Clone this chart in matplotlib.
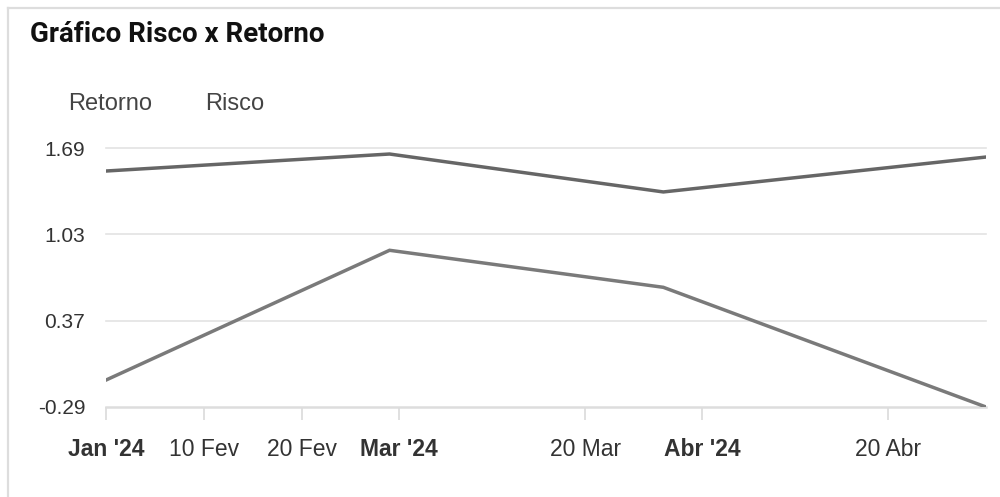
import matplotlib
matplotlib.use("Agg")
import matplotlib.pyplot as plt
from matplotlib.lines import Line2D
import datetime as dt

# ---- data ----
dates = ["2024-01-31", "2024-02-29", "2024-03-28", "2024-04-30"]
risco = [1.514, 1.644, 1.354, 1.621]
retorno = [-0.084, 0.908, 0.625, -0.29]
y_ticks = [-0.29, 0.37, 1.03, 1.69]
x_tick_dates = ["2024-01-31", "2024-02-10", "2024-02-20", "2024-03-01",
                "2024-03-20", "2024-04-01", "2024-04-20"]
x_tick_labels = ["Jan '24", "10 Fev", "20 Fev", "Mar '24", "20 Mar", "Abr '24", "20 Abr"]
bold_labels = {"Jan '24", "Mar '24", "Abr '24"}
title = "Gráfico Risco x Retorno"

to_d = lambda s: dt.datetime.strptime(s, "%Y-%m-%d")
xd = [to_d(s) for s in dates]
xt = [to_d(s) for s in x_tick_dates]

fig = plt.figure(figsize=(10, 4.97), dpi=100)
fig.patch.set_facecolor("white")
W, H = 1000, 497
ax = fig.add_axes([106 / W, 1 - 407 / H, (986 - 106) / W, (407 - 148) / H])

ax.plot(xd, risco, color="#666666", lw=2.5, solid_joinstyle="miter", zorder=3)
ax.plot(xd, retorno, color="#7a7a7a", lw=2.5, solid_joinstyle="miter", zorder=3)

ax.set_xlim(xd[0], xd[-1])
ax.set_ylim(y_ticks[0], y_ticks[-1])

for s in ["top", "right", "left"]:
    ax.spines[s].set_visible(False)
ax.spines["bottom"].set_color("#dddddd")
ax.spines["bottom"].set_linewidth(1.8)

ax.set_yticks(y_ticks)
ax.set_yticklabels([f"{v:.2f}" for v in y_ticks], family="Liberation Sans",
                   fontsize=15, color="#333333")
ax.tick_params(axis="y", length=0, pad=15)
for v in y_ticks[1:]:
    ax.axhline(v, color="#e3e3e3", lw=1.2, zorder=1, clip_on=False)

ax.set_xticks(xt)
ax.set_xticklabels(x_tick_labels, family="Liberation Sans", fontsize=16.5, color="#333333")
for lbl in ax.get_xticklabels():
    if lbl.get_text() in bold_labels:
        lbl.set_fontweight("bold")
ax.tick_params(axis="x", length=9.5, width=1.3, color="#dddddd", pad=13)

# title & legend
fig.text(30 / W, 1 - 34 / H, title, family="Roboto", fontweight="bold",
         fontsize=20, color="#111111", va="center", ha="left")
fig.text(68 / W, 1 - 104 / H, "Retorno", family="Liberation Sans", fontsize=17,
         color="#444444", va="center", ha="left")
fig.text(205 / W, 1 - 104 / H, "Risco", family="Liberation Sans", fontsize=17,
         color="#444444", va="center", ha="left")

# card border
fig.add_artist(Line2D([8 / W, 8 / W], [0, 1 - 8 / H], color="#dddddd", lw=1.6,
                      transform=fig.transFigure))
fig.add_artist(Line2D([8 / W, 1], [1 - 8 / H, 1 - 8 / H], color="#dddddd", lw=1.6,
                      transform=fig.transFigure))

fig.savefig("out.png", dpi=100, facecolor="white")
